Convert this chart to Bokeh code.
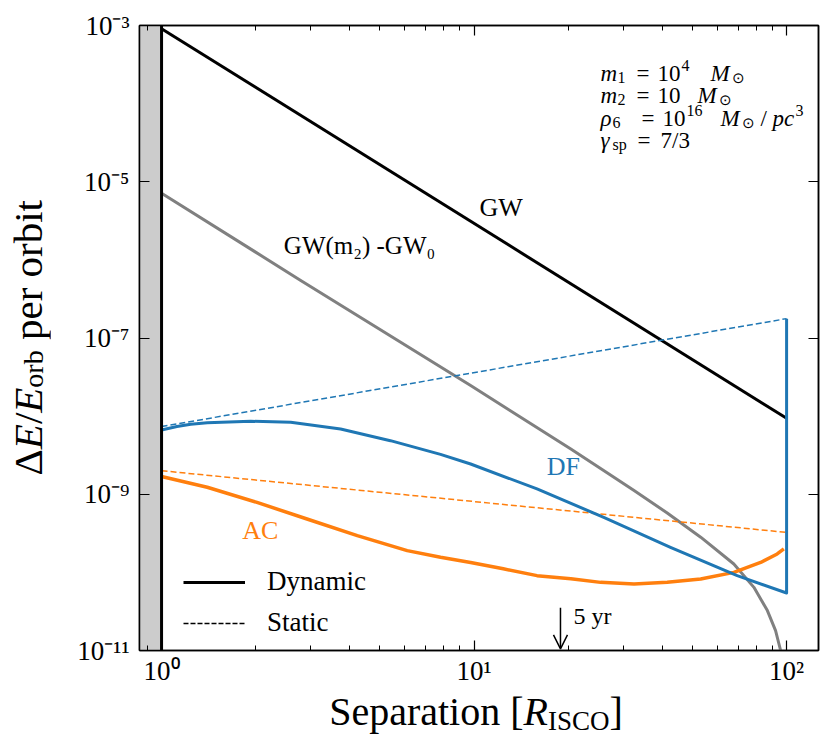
import numpy as np
from bokeh.plotting import figure
from bokeh.layouts import row, column
from bokeh.models import (Range1d, LogAxis, FixedTicker, Label, Span, BoxAnnotation,
                          Arrow, OpenHead, Legend, LegendItem, Div)
from bokeh.embed import file_html
from bokeh.resources import INLINE

# ---------------- data ----------------
gw_x = [1.0, 100.0]
gw_y = [9.1e-4, 9.4e-9]

gwm2_x = [1.0, 2.78, 9.75, 20.4, 25.4, 32.5, 41.5, 53.1, 67.8, 78.6, 86.8, 92.2, 95.7, 97.7]
gwm2_y = [7.13e-6, 5.50e-7, 2.46e-8, 3.80e-9, 2.14e-9, 1.12e-9, 5.75e-10, 2.82e-10,
          1.28e-10, 6.43e-11, 3.24e-11, 1.80e-11, 1.0e-11, 3.0e-12]

df_dyn_x = [1.0, 1.12, 1.24, 1.40, 1.93, 2.59, 3.74, 5.40, 7.81, 9.75, 15.9, 26.0, 42.5,
            69.5, 100.0, 100.0]
df_dyn_y = [6.65e-9, 7.35e-9, 7.85e-9, 8.25e-9, 8.59e-9, 8.34e-9, 6.85e-9, 4.85e-9,
            3.24e-9, 2.44e-9, 1.17e-9, 5.06e-10, 2.09e-10, 9.08e-11, 5.45e-11, 1.77e-7]

df_sta_x = [1.0, 100.0]
df_sta_y = [7.35e-9, 1.77e-7]

ac_dyn_x = [1.0, 1.40, 2.02, 2.92, 4.23, 6.11, 7.81, 9.75, 12.4, 15.9, 20.4, 25.4, 32.5,
            41.5, 53.1, 67.8, 82.6, 93.3, 98.0]
ac_dyn_y = [1.69e-9, 1.23e-9, 7.87e-10, 4.82e-10, 2.95e-10, 1.90e-10, 1.56e-10, 1.34e-10,
            1.11e-10, 9.08e-11, 8.3e-11, 7.45e-11, 7.10e-11, 7.45e-11, 8.22e-11, 1.0e-10,
            1.34e-10, 1.72e-10, 2.0e-10]

ac_sta_x = [1.0, 100.0]
ac_sta_y = [2.0e-9, 3.25e-10]

isco_x = 1.0
five_yr_x = 18.9
five_yr_arrow_y = [3.53e-11, 1.05e-11]

x_ticks = [1, 10, 100]
x_tick_labels = ["10⁰", "10¹", "10²"]
x_minor = [0.9, 2, 3, 4, 5, 6, 7, 8, 9, 20, 30, 40, 50, 60, 70, 80, 90]
y_ticks = [1e-11, 1e-9, 1e-7, 1e-5, 1e-3]
y_tick_labels = ["10⁻¹¹", "10⁻⁹", "10⁻⁷", "10⁻⁵", "10⁻³"]

BLUE = "#1f77b4"
ORANGE = "#ff7f0e"
GRAY = "#808080"
FONT = "Liberation Serif"

YLAB_W = 50
FIG_W, FIG_H = 773, 695

# ---------------- figure ----------------
p = figure(width=FIG_W, height=FIG_H, x_axis_type="log", y_axis_type="log",
           x_range=Range1d(0.85, 126.5), y_range=Range1d(1e-11, 1e-3),
           output_backend="svg", toolbar_location=None,
           min_border_left=89, min_border_right=5, min_border_top=25, min_border_bottom=45)
p.margin = 0
p.grid.visible = False
p.outline_line_color = "black"
p.outline_line_width = 1.5
p.background_fill_color = "white"
p.border_fill_color = "white"

xt = FixedTicker(ticks=x_ticks, minor_ticks=x_minor)
yt = FixedTicker(ticks=y_ticks, minor_ticks=[])

def style_axis(ax, show_labels):
    ax.axis_line_width = 1.5
    ax.major_tick_in = 10
    ax.major_tick_out = 0
    ax.minor_tick_in = 5
    ax.minor_tick_out = 0
    ax.major_tick_line_width = 1.2
    ax.minor_tick_line_width = 1.0
    ax.major_label_text_font = FONT
    if show_labels:
        ax.major_label_text_font_size = "27px"
        ax.major_label_text_color = "black"
    else:
        ax.major_label_text_font_size = "1px"
        ax.major_label_text_alpha = 0
        ax.major_label_standoff = 0

p.xaxis.ticker = xt
p.yaxis.ticker = yt
p.xaxis.major_label_overrides = {t: s for t, s in zip(x_ticks, x_tick_labels)}
p.yaxis.major_label_overrides = {t: s for t, s in zip(y_ticks, y_tick_labels)}
style_axis(p.xaxis[0], True)
style_axis(p.yaxis[0], True)
p.xaxis.major_label_standoff = 5
p.yaxis.major_label_standoff = 10

top = LogAxis(ticker=xt)
style_axis(top, False)
p.add_layout(top, "above")
right = LogAxis(ticker=yt)
style_axis(right, False)
p.add_layout(right, "right")

# excluded region and ISCO line
p.add_layout(BoxAnnotation(right=isco_x, fill_color="#cccccc", fill_alpha=1.0,
                           line_alpha=0, level="underlay"))
p.add_layout(Span(location=isco_x, dimension="height", line_color="black", line_width=3))

# curves
p.line(gw_x, gw_y, line_color="black", line_width=3)
p.line(gwm2_x, gwm2_y, line_color=GRAY, line_width=3, line_join="round")
p.line(df_sta_x, df_sta_y, line_color=BLUE, line_width=1.5, line_dash="6 3")
p.line(ac_sta_x, ac_sta_y, line_color=ORANGE, line_width=1.5, line_dash="6 3")
p.line(ac_dyn_x, ac_dyn_y, line_color=ORANGE, line_width=3.5, line_join="round")
p.line(df_dyn_x, df_dyn_y, line_color=BLUE, line_width=3, line_join="round")

# legend with style-only (invisible, NaN) renderers
r_dyn = p.line([np.nan], [np.nan], line_color="black", line_width=3)
r_sta = p.line([np.nan], [np.nan], line_color="black", line_width=1.5, line_dash="5 2")
leg = Legend(items=[LegendItem(label="Dynamic", renderers=[r_dyn]),
                    LegendItem(label="Static", renderers=[r_sta])],
             location=(44, 12), glyph_width=62, glyph_height=30, label_height=30,
             label_standoff=22, spacing=10, padding=0, margin=0,
             border_line_alpha=0, background_fill_alpha=0,
             label_text_font=FONT, label_text_font_size="27px", label_text_color="black")
p.add_layout(leg)

# arrow 5 yr
p.add_layout(Arrow(end=OpenHead(size=14, line_width=1.5, line_color="black"),
                   x_start=five_yr_x, y_start=five_yr_arrow_y[0],
                   x_end=five_yr_x, y_end=five_yr_arrow_y[1],
                   line_width=1.5, line_color="black"))

def dlabel(text, x, y, size, color="black", align="center", style="normal"):
    p.add_layout(Label(x=x, y=y, text=text, text_font=FONT, text_font_size=f"{size}px",
                       text_color=color, text_align=align, text_baseline="middle",
                       text_font_style=style))

dlabel("GW", 12.2, 4.7e-6, 26)
dlabel("GW(m₂) -GW₀", 4.30, 1.52e-6, 25)
dlabel("DF", 19.3, 2.25e-9, 26, BLUE)
dlabel("AC", 2.07, 3.42e-10, 26, ORANGE)
dlabel("5 yr", 20.8, 2.79e-11, 24, align="left")

# screen-positioned text inside the frame (page coordinates -> frame coordinates)
FL, FB = 139, 650
def slabel(text, px, py, size, style="normal", align="left"):
    p.add_layout(Label(x=px - FL, y=FB - py, x_units="screen", y_units="screen",
                       text=text, text_font=FONT, text_font_size=f"{size}px",
                       text_font_style=style, text_align=align,
                       text_baseline="alphabetic", text_color="black"))

# parameter box: (text, x, baseline y, size, style)
box = [
    ("m", 600, 73, 23, "italic"), ("1", 617, 77, 16, "normal"), ("=", 636, 73, 23, "normal"),
    ("10", 657, 73, 23, "normal"), ("4", 681, 65, 16, "normal"), ("M", 710, 73, 23, "italic"),
    ("⊙", 731, 77, 15, "normal"),
    ("m", 600, 95, 23, "italic"), ("2", 617, 99, 16, "normal"), ("=", 636, 95, 23, "normal"),
    ("10", 657, 95, 23, "normal"), ("M", 697, 95, 23, "italic"), ("⊙", 718, 99, 15, "normal"),
    ("ρ", 600, 118, 23, "italic"), ("6", 612, 122, 16, "normal"), ("=", 641, 118, 23, "normal"),
    ("10", 662, 118, 23, "normal"), ("16", 686, 110, 16, "normal"), ("M", 720, 118, 23, "italic"),
    ("⊙", 741, 122, 15, "normal"), ("/", 760, 118, 23, "normal"), ("pc", 772, 118, 23, "italic"),
    ("3", 795, 110, 16, "normal"),
    ("γ", 600, 140, 23, "italic"), ("sp", 612, 144, 16, "normal"), ("=", 637, 140, 23, "normal"),
    ("7/3", 660, 140, 23, "normal"),
]
for t, px, py, s, st in box:
    slabel(t, px, py, s, st)

# ---------------- axis titles as HTML text ----------------
ylab_html = (
    f'<div style="width:{YLAB_W}px;height:{FIG_H}px;display:flex;align-items:center;'
    'justify-content:flex-start;">'
    '<div style="writing-mode:vertical-rl;transform:rotate(180deg);'
    "font-family:'Liberation Serif';font-size:41px;line-height:41px;white-space:nowrap;"
    'color:black;margin-left:8px;margin-bottom:20px;">'
    'Δ<i>E</i>/<i>E</i><span style="font-size:28px;line-height:0;vertical-align:-6px;">orb</span>'
    ' per orbit</div></div>'
)
xlab_html = (
    f'<div style="width:{YLAB_W + FIG_W}px;height:46px;position:relative;">'
    '<div style="position:absolute;left:476px;top:-3px;transform:translateX(-50%);'
    "font-family:'Liberation Serif';font-size:40px;line-height:40px;white-space:nowrap;"
    'color:black;">'
    'Separation [<i>R</i><span style="font-size:27px;line-height:0;vertical-align:-5px;">ISCO</span>]'
    '</div></div>'
)
ydiv = Div(text=ylab_html, width=YLAB_W, height=FIG_H, margin=0)
xdiv = Div(text=xlab_html, width=YLAB_W + FIG_W, height=46, margin=0)

layout = column(row(ydiv, p, spacing=0, margin=0), xdiv, spacing=0, margin=0)

open("out.html", "w").write(file_html(layout, INLINE))
